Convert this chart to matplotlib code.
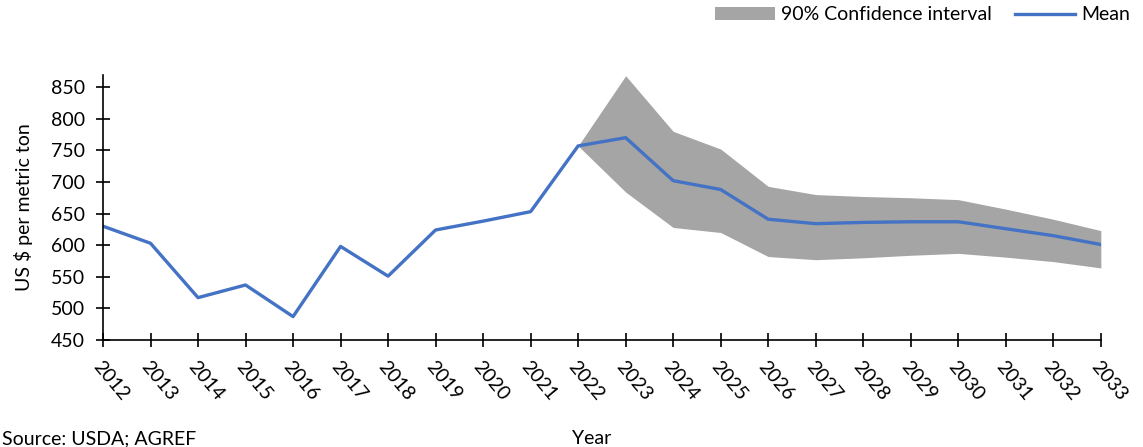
import numpy as np
import matplotlib
matplotlib.use('Agg')
import matplotlib.pyplot as plt
from matplotlib.patches import Patch
from matplotlib.lines import Line2D

plt.rcParams['font.family'] = ['Lato', 'DejaVu Sans']

# Price history and projections (US $ per metric ton)
years = np.arange(2012, 2034)
mean = [630, 603, 517, 537, 487, 598, 551, 624, 638, 653, 757, 770,
        702, 688, 641, 634, 636, 637, 637, 626, 615, 601]

# 90% confidence band from 2022 onward
band_years = np.arange(2022, 2034)
upper = [757, 868, 780, 752, 693, 680, 677, 675, 672, 657, 641, 623]
lower = [757, 684, 628, 620, 582, 577, 580, 584, 587, 581, 574, 564]

blue = '#4472C4'
grey = '#A5A5A5'
fs = 14

fig = plt.figure(figsize=(11.43, 4.47), dpi=100)
ax = fig.add_axes([0.0901, 0.2394, 0.873, 0.5926])

ax.fill_between(band_years, lower, upper, color=grey, linewidth=0)
ax.plot(years, mean, color=blue, linewidth=2.4, solid_joinstyle='round')

ax.set_xlim(2012, 2033)
ax.set_ylim(450, 869)
ax.set_yticks(np.arange(450, 851, 50))
ax.set_xticks(years)
ax.set_xticklabels([str(y) for y in years], rotation=-50, ha='left',
                   va='top', rotation_mode='anchor')
ax.tick_params(axis='both', direction='inout', length=10, width=1.2,
               labelsize=fs, colors='black')
ax.tick_params(axis='x', pad=8)
ax.tick_params(axis='y', pad=8)
for s in ['top', 'right']:
    ax.spines[s].set_visible(False)
for s in ['left', 'bottom']:
    ax.spines[s].set_linewidth(1.2)

ax.set_ylabel('US $ per metric ton', fontsize=fs, labelpad=13)
fig.text(0.518, 0.0, 'Year', fontsize=fs, ha='center', va='bottom')
fig.text(0.002, 0.0, 'Source: USDA; AGREF', fontsize=fs, ha='left', va='bottom')

handles = [Patch(facecolor=grey, edgecolor='none', label='90% Confidence interval'),
           Line2D([], [], color=blue, linewidth=2.4, label='Mean')]
fig.legend(handles=handles, loc='upper right', bbox_to_anchor=(1.004, 1.025),
           ncol=2, frameon=False, fontsize=fs, handlelength=3.1,
           handletextpad=0.3, columnspacing=1.2)

fig.savefig('out.png', dpi=100)
